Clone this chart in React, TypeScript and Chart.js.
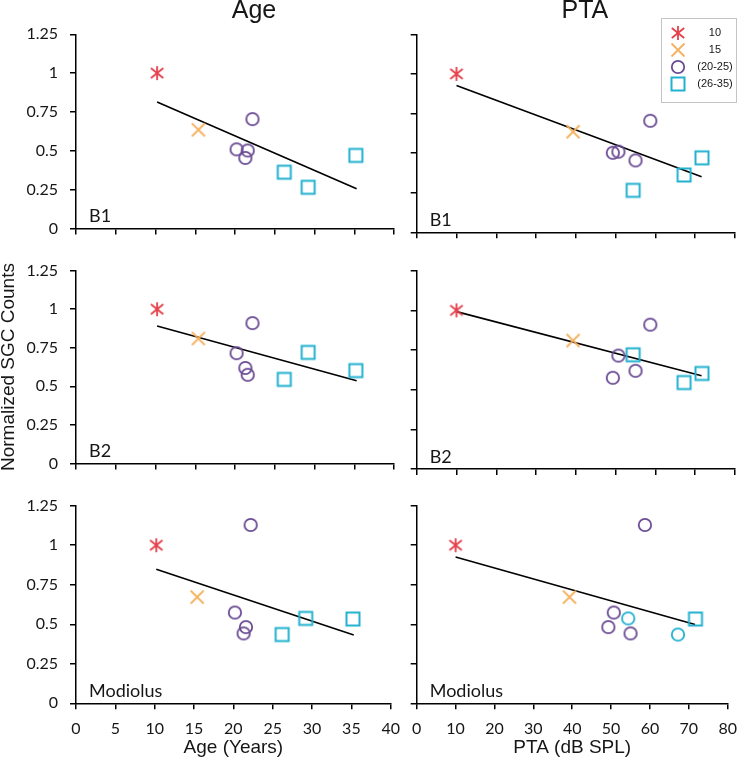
import React, { useEffect, useRef } from 'react';
import { Chart, registerables } from 'chart.js';

Chart.register(...registerables);

// ---------------- data ----------------
const groupLabels = ['10', '15', '(20-25)', '(26-35)'];
const groupColors = ['#e5404b', '#f5b160', '#6a4b93', '#22b1cf'];
const groupShapes = ['asterisk', 'cross', 'circle', 'square'];

// one entry per subject
const subjectGroup = [0, 1, 2, 2, 2, 2, 3, 3, 3];
const subjectAge = [10.2, 15.4, 20.2, 21.3, 21.6, 22.2, 26.2, 29.2, 35.2];
const subjectPTA = [10.0, 39.3, 50.7, 55.0, 49.3, 58.7, 67.2, 54.4, 71.7];

const countsB1 = [1.0, 0.635, 0.509, 0.454, 0.502, 0.704, 0.362, 0.265, 0.47];
const countsB2 = [1.0, 0.81, 0.715, 0.619, 0.575, 0.91, 0.545, 0.72, 0.602];
const countsModiolus = [1.0, 0.672, 0.574, 0.442, 0.482, 1.128, 0.435, 0.537, 0.533];

// regression lines (end points)
const ageFitX = [10.2, 35.3];
const ageFitB1 = [0.814, 0.256];
const ageFitB2 = [0.891, 0.536];
const ageFitModiolus = [0.848, 0.432];
const ptaFitX = [10.0, 71.6];
const ptaFitB1 = [0.926, 0.351];
const ptaFitB2 = [0.992, 0.588];
const ptaFitModiolus = [0.926, 0.498];

// in the source figure two (26-35) subjects are drawn as circles in the Modiolus / PTA panel
const modiolusPtaCircleSubjects = [6, 7];

const regionLabels = ['B1', 'B2', 'Modiolus'];
const columnTitles = ['Age', 'PTA'];
const xAxisTitles = ['Age (Years)', 'PTA (dB SPL)'];
const yAxisTitle = 'Normalized SGC Counts';
const ageAxis = [0, 40, 5];
const ptaAxis = [0, 80, 10];
const countAxis = [0, 1.25, 0.25];

// ---------------- markers ----------------
const markerCache: Record<string, HTMLCanvasElement> = {};
function marker(shape: string, color: string): HTMLCanvasElement {
  const key = shape + color;
  if (markerCache[key]) return markerCache[key];
  const size = 20;
  const c = document.createElement('canvas');
  c.width = size;
  c.height = size;
  const g = c.getContext('2d')!;
  const m = size / 2;
  g.strokeStyle = color;
  g.lineWidth = 1.8;
  g.beginPath();
  if (shape === 'asterisk') {
    g.moveTo(m, m - 7);
    g.lineTo(m, m + 7);
    g.moveTo(m - 6.2, m - 5);
    g.lineTo(m + 6.2, m + 5);
    g.moveTo(m - 6.2, m + 5);
    g.lineTo(m + 6.2, m - 5);
  } else if (shape === 'cross') {
    g.moveTo(m - 6.5, m - 6.5);
    g.lineTo(m + 6.5, m + 6.5);
    g.moveTo(m - 6.5, m + 6.5);
    g.lineTo(m + 6.5, m - 6.5);
  } else if (shape === 'circle') {
    g.arc(m, m, 6.2, 0, Math.PI * 2);
  } else {
    g.lineWidth = 2;
    g.rect(m - 6.5, m - 6.5, 13, 13);
  }
  g.stroke();
  markerCache[key] = c;
  return c;
}

// ---------------- layout ----------------
const rowGeom = [
  { top: 0, height: 250, padTop: 34.3, padBottom: 7.7, xHeight: 10 },
  { top: 245, height: 240, padTop: 25.7, padBottom: 6, xHeight: 10 },
  { top: 482, height: 280, padTop: 23.7, padBottom: 0, xHeight: 58.7 },
];
const colGeom = [
  { left: 0, width: 410, padRight: 16, yWidth: 76, titleDx: 19 },
  { left: 400, width: 347, padRight: 12, yWidth: 16.7, titleDx: 9 },
];

type Spec = {
  row: number;
  col: number;
  xs: number[];
  ys: number[];
  fitX: number[];
  fitY: number[];
  circleOverride: number[];
};

const rowCounts = [countsB1, countsB2, countsModiolus];
const rowAgeFits = [ageFitB1, ageFitB2, ageFitModiolus];
const rowPtaFits = [ptaFitB1, ptaFitB2, ptaFitModiolus];

const specs: Spec[] = [];
for (let r = 0; r < 3; r++) {
  specs.push({ row: r, col: 0, xs: subjectAge, ys: rowCounts[r], fitX: ageFitX, fitY: rowAgeFits[r], circleOverride: [] });
  specs.push({
    row: r,
    col: 1,
    xs: subjectPTA,
    ys: rowCounts[r],
    fitX: ptaFitX,
    fitY: rowPtaFits[r],
    circleOverride: r === 2 ? modiolusPtaCircleSubjects : [],
  });
}

const tickFont = { family: 'Lato', size: 16 };
const textColor = '#161616';
const plainNumber = (v: any) => String(Math.round(Number(v) * 1000) / 1000);

function Panel({ spec }: { spec: Spec }) {
  const ref = useRef<HTMLCanvasElement>(null);
  const rg = rowGeom[spec.row];
  const cg = colGeom[spec.col];
  useEffect(() => {
    const canvas = ref.current!;
    const axis = spec.col === 0 ? ageAxis : ptaAxis;
    const isBottom = spec.row === 2;
    const isLeft = spec.col === 0;

    const datasets: any[] = groupLabels.map((lab, gi) => {
      const idx = subjectGroup.map((g, i) => (g === gi ? i : -1)).filter((i) => i >= 0);
      return {
        label: lab,
        data: idx.map((i) => ({ x: spec.xs[i], y: spec.ys[i] })),
        pointStyle: idx.map((i) =>
          marker(spec.circleOverride.includes(i) ? 'circle' : groupShapes[gi], groupColors[gi])
        ),
        pointRadius: 6,
        showLine: false,
      };
    });
    datasets.push({
      label: 'fit',
      data: spec.fitX.map((x, k) => ({ x, y: spec.fitY[k] })),
      showLine: true,
      borderColor: '#000',
      borderWidth: 1.6,
      pointRadius: 0,
      fill: false,
    });

    const textPlugin = {
      id: 'panelText',
      afterDraw(chart: any) {
        const { ctx, chartArea } = chart;
        ctx.save();
        ctx.fillStyle = textColor;
        ctx.textBaseline = 'alphabetic';
        ctx.textAlign = 'left';
        ctx.font = '18px Lato';
        ctx.fillText(regionLabels[spec.row], chartArea.left + 13, chartArea.bottom - 6.5);
        if (spec.row === 0) {
          ctx.font = '25px "Liberation Sans", Arial, sans-serif';
          ctx.textAlign = 'center';
          ctx.fillText(
            columnTitles[spec.col],
            (chartArea.left + chartArea.right) / 2 + cg.titleDx,
            chartArea.top - 16.8
          );
        }
        ctx.restore();
      },
    };

    const gridOpts = {
      display: true,
      drawOnChartArea: false,
      drawTicks: true,
      tickLength: 6,
      color: '#000',
      lineWidth: 1.5,
    };
    const borderOpts = { display: true, color: '#000', width: 1.5 };

    const chart = new Chart(canvas, {
      type: 'scatter',
      data: { datasets },
      options: {
        responsive: false,
        animation: false,
        events: [],
        layout: { padding: { top: rg.padTop, bottom: rg.padBottom, left: 0, right: cg.padRight } },
        plugins: { legend: { display: false }, tooltip: { enabled: false } },
        scales: {
          x: {
            type: 'linear',
            min: axis[0],
            max: axis[1],
            ticks: {
              stepSize: axis[2],
              display: isBottom,
              font: tickFont,
              color: textColor,
              padding: 10,
              maxRotation: 0,
              callback: plainNumber,
            },
            grid: gridOpts,
            border: borderOpts,
            title: {
              display: isBottom,
              text: xAxisTitles[spec.col],
              font: { family: 'Liberation Sans', size: 19 },
              color: textColor,
              padding: { top: 0, bottom: 3 },
            },
            afterFit: (s: any) => {
              s.height = rg.xHeight;
            },
          },
          y: {
            type: 'linear',
            min: countAxis[0],
            max: countAxis[1],
            ticks: {
              stepSize: countAxis[2],
              display: isLeft,
              font: tickFont,
              color: textColor,
              padding: 12,
              callback: plainNumber,
            },
            grid: gridOpts,
            border: borderOpts,
            title: {
              display: isLeft && spec.row === 1,
              text: yAxisTitle,
              font: { family: 'Liberation Sans', size: 19, lineHeight: 0.9 },
              color: textColor,
              padding: { top: 0, bottom: 0 },
            },
            afterFit: (s: any) => {
              s.width = cg.yWidth;
            },
          },
        },
      } as any,
      plugins: [textPlugin],
    });
    return () => chart.destroy();
  }, []);
  return (
    <canvas
      ref={ref}
      width={cg.width}
      height={rg.height}
      style={{ position: 'absolute', left: cg.left, top: rg.top, width: cg.width, height: rg.height }}
    />
  );
}

function LegendBox() {
  const ref = useRef<HTMLCanvasElement>(null);
  useEffect(() => {
    const canvas = ref.current!;
    const markers = groupShapes.map((s, i) => marker(s, groupColors[i]));
    const chart = new Chart(canvas, {
      type: 'scatter',
      data: {
        datasets: groupLabels.map((l, i) => ({ label: l, data: [], pointStyle: markers[i] })),
      },
      options: {
        responsive: false,
        animation: false,
        events: [],
        layout: { padding: { left: 0.25, top: 3.5, right: 0, bottom: 0 } },
        scales: { x: { display: false }, y: { display: false } },
        plugins: {
          tooltip: { enabled: false },
          legend: {
            position: 'left',
            align: 'start',
            labels: {
              usePointStyle: true,
              pointStyleWidth: 17.5,
              padding: 6,
              textAlign: 'center',
              font: { family: 'Liberation Sans', size: 11 },
              color: textColor,
              generateLabels: (ch: any) =>
                ch.data.datasets.map((d: any, i: number) => ({
                  text: d.label,
                  pointStyle: markers[i],
                  datasetIndex: i,
                  hidden: false,
                  fillStyle: 'rgba(0,0,0,0)',
                  strokeStyle: groupColors[i],
                  lineWidth: 0,
                  fontColor: textColor,
                })),
            },
          },
        },
      } as any,
    });
    return () => chart.destroy();
  }, []);
  return (
    <>
      <div
        style={{
          position: 'absolute',
          left: 661,
          top: 18,
          width: 76,
          height: 85,
          border: '1px solid #c4c4c4',
          boxSizing: 'border-box',
          background: '#fff',
        }}
      />
      <canvas
        ref={ref}
        width={160}
        height={85}
        style={{ position: 'absolute', left: 663, top: 18, width: 160, height: 85 }}
      />
    </>
  );
}

export default function App() {
  return (
    <div
      style={{
        position: 'absolute',
        left: 0,
        top: 0,
        width: 747,
        height: 762,
        overflow: 'hidden',
        background: '#fff',
      }}
    >
      {specs.map((s) => (
        <Panel key={`${s.row}-${s.col}`} spec={s} />
      ))}
      <LegendBox />
    </div>
  );
}
